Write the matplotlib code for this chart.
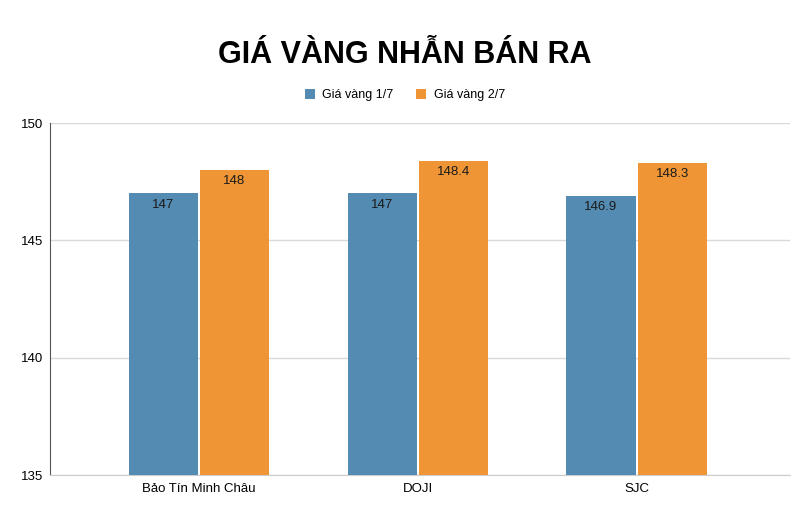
import matplotlib.pyplot as plt
import numpy as np

plt.rcParams['font.family'] = ['Liberation Sans', 'DejaVu Sans']

stores = ["Bảo Tín Minh Châu", "DOJI", "SJC"]
gia_1_7 = [147, 147, 146.9]
gia_2_7 = [148, 148.4, 148.3]
series_names = ["Giá vàng 1/7", "Giá vàng 2/7"]

blue = "#548bb2"
orange = "#ef9535"

fig = plt.figure(figsize=(8.1, 5.18), dpi=100)
ax = fig.add_axes([50 / 810, 43 / 518, 740 / 810, 352 / 518])

x = np.arange(len(stores))
w = 0.316
gap = 0.005
b1 = ax.bar(x - w / 2 - gap, gia_1_7, w, color=blue, label=series_names[0], zorder=3)
b2 = ax.bar(x + w / 2 + gap, gia_2_7, w, color=orange, label=series_names[1], zorder=3)

for bars, vals in ((b1, gia_1_7), (b2, gia_2_7)):
    for rect, v in zip(bars, vals):
        ax.annotate(f"{v:g}", (rect.get_x() + rect.get_width() / 2, v),
                    xytext=(0, -4), textcoords="offset points",
                    ha="center", va="top", fontsize=9.5, color="#1a1a1a")

ax.set_ylim(135, 150)
ax.set_xlim(-0.68, 2.70)
ax.set_yticks([135, 140, 145, 150])
ax.set_xticks(x)
ax.set_xticklabels(stores)
ax.grid(axis="y", color="#d9d9d9", linewidth=1, zorder=0)
for s in ("top", "right"):
    ax.spines[s].set_visible(False)
ax.spines["left"].set_color("#555555")
ax.spines["bottom"].set_color("#cccccc")
ax.tick_params(axis="x", length=0, pad=6, labelsize=9.5)
ax.tick_params(axis="y", length=0, pad=5, labelsize=9.5)

fig.text(0.5, 0.893, "GIÁ VÀNG NHẪN BÁN RA", ha="center", va="center",
         fontsize=22, fontweight="bold")
fig.legend(loc="center", bbox_to_anchor=(0.5, 0.816), ncol=2, frameon=False,
           fontsize=9, handlelength=0.8, handleheight=0.8, columnspacing=1.8,
           handletextpad=0.6)

plt.savefig("out.png")
